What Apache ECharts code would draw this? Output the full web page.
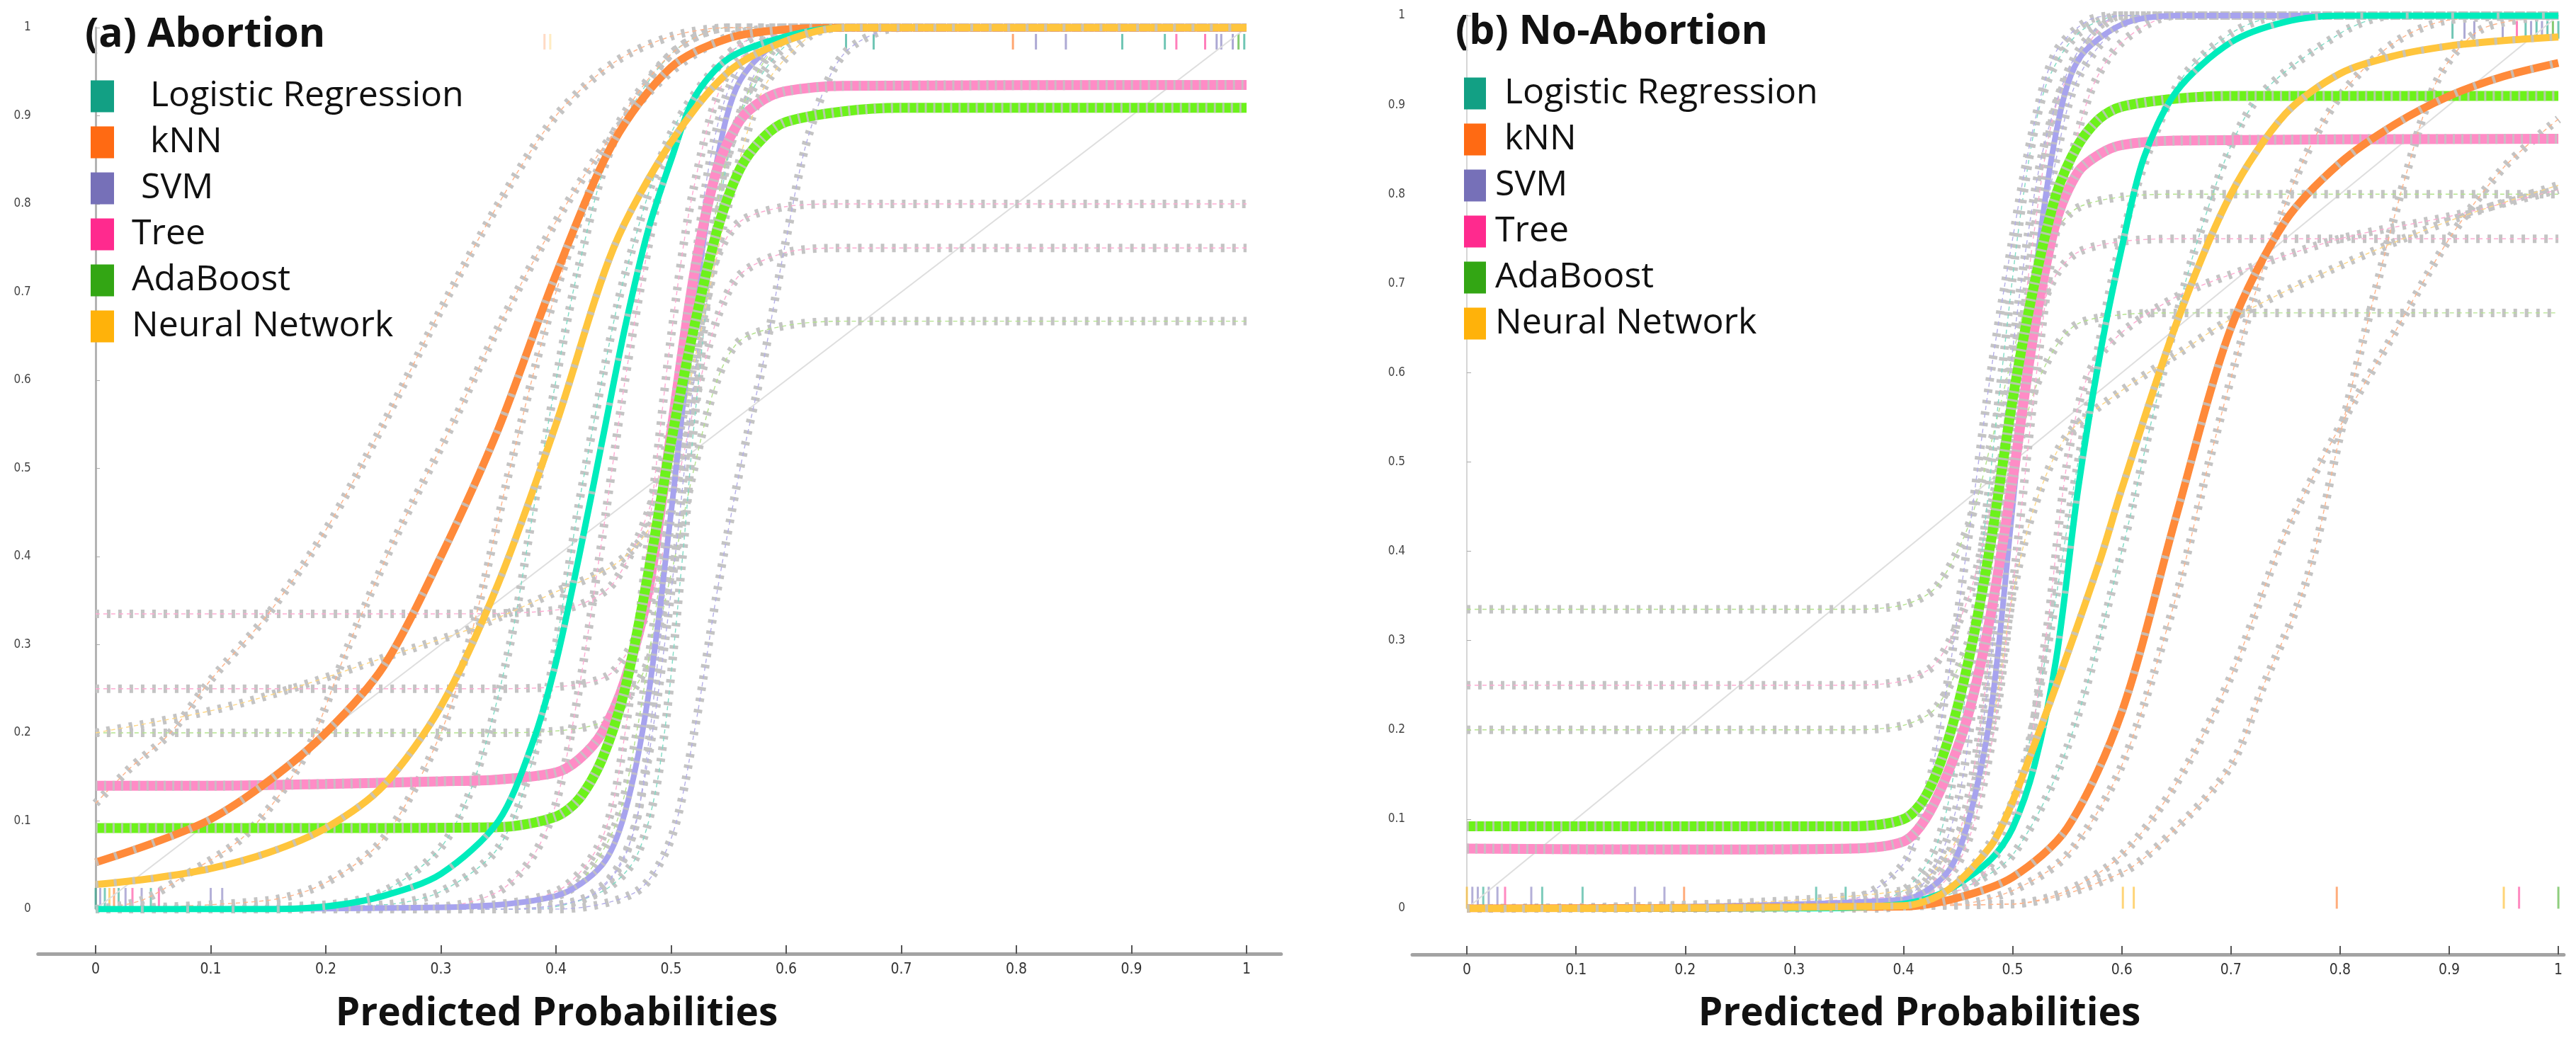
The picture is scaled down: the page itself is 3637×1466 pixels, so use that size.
<!DOCTYPE html>
<html><head><meta charset="utf-8">
<script src="https://cdn.jsdelivr.net/npm/echarts@6/dist/echarts.min.js"></script>
<style>html,body{margin:0;padding:0;background:#fff}#c{width:3637px;height:1466px}</style>
</head><body><div id="c"></div>
<script>
// ---------------- DATA ----------------
const modelNames = ['Logistic Regression', 'kNN', 'SVM', 'Tree', 'AdaBoost', 'Neural Network'];
const xTickValues = [0, 0.1, 0.2, 0.3, 0.4, 0.5, 0.6, 0.7, 0.8, 0.9, 1];
const panelTitles = ['(a) Abortion', '(b) No-Abortion'];
const xAxisTitle = 'Predicted Probabilities';

// (a) Abortion - main calibration curves [predicted, observed]
const abortionLR = [[0,0],[0.15,0],[0.2,0.003],[0.25,0.015],[0.3,0.04],[0.35,0.1],[0.38,0.19],[0.4,0.28],[0.42,0.4],[0.44,0.53],[0.46,0.66],[0.48,0.77],[0.5,0.85],[0.52,0.92],[0.55,0.965],[0.6,0.99],[0.65,1],[1,1]];
const abortionKNN = [[0,0.053],[0.05,0.075],[0.1,0.102],[0.15,0.145],[0.2,0.2],[0.25,0.275],[0.3,0.4],[0.35,0.545],[0.4,0.72],[0.45,0.87],[0.5,0.955],[0.55,0.988],[0.6,0.998],[0.65,1],[1,1]];
const abortionSVM = [[0,0],[0.3,0.002],[0.4,0.015],[0.44,0.05],[0.46,0.11],[0.48,0.24],[0.5,0.45],[0.52,0.68],[0.54,0.85],[0.56,0.94],[0.6,0.99],[0.65,1],[1,1]];
const abortionTree = [[0,0.14],[0.1,0.14],[0.2,0.142],[0.3,0.145],[0.35,0.147],[0.4,0.155],[0.42,0.17],[0.44,0.2],[0.46,0.26],[0.48,0.36],[0.5,0.54],[0.52,0.72],[0.54,0.84],[0.56,0.895],[0.58,0.918],[0.6,0.928],[0.65,0.934],[1,0.935]];
const abortionAda = [[0,0.092],[0.2,0.092],[0.35,0.093],[0.4,0.105],[0.42,0.125],[0.44,0.17],[0.46,0.25],[0.48,0.38],[0.5,0.53],[0.52,0.66],[0.54,0.77],[0.56,0.84],[0.58,0.875],[0.6,0.893],[0.65,0.905],[0.7,0.909],[1,0.909]];
const abortionNN = [[0,0.028],[0.05,0.035],[0.1,0.046],[0.15,0.064],[0.2,0.092],[0.25,0.14],[0.3,0.23],[0.35,0.37],[0.4,0.55],[0.45,0.75],[0.5,0.87],[0.55,0.95],[0.6,0.985],[0.65,1],[1,1]];

// (a) Abortion - resampled curves (grey diamonds)
const abortionBoot1 = [[0,0.335],[0.3,0.335],[0.38,0.337],[0.42,0.345],[0.45,0.37],[0.48,0.45],[0.5,0.55],[0.52,0.66],[0.54,0.74],[0.56,0.78],[0.6,0.797],[0.65,0.8],[1,0.8]];
const abortionBoot2 = [[0,0.25],[0.35,0.25],[0.42,0.255],[0.45,0.27],[0.48,0.34],[0.5,0.45],[0.52,0.57],[0.54,0.67],[0.56,0.72],[0.6,0.745],[0.65,0.75],[1,0.75]];
const abortionBoot3 = [[0,0.2],[0.35,0.2],[0.42,0.205],[0.45,0.22],[0.48,0.28],[0.5,0.38],[0.52,0.5],[0.54,0.6],[0.56,0.645],[0.6,0.662],[0.65,0.667],[1,0.667]];
const abortionBoot4 = [[0,0],[0.35,0],[0.42,0.01],[0.45,0.04],[0.47,0.1],[0.49,0.3],[0.5,0.45],[0.51,0.6],[0.53,0.82],[0.55,0.93],[0.58,0.985],[0.62,1],[1,1]];
const abortionBoot5 = [[0,0],[0.38,0],[0.44,0.02],[0.47,0.06],[0.49,0.16],[0.51,0.4],[0.52,0.55],[0.54,0.78],[0.56,0.9],[0.6,0.98],[0.65,1],[1,1]];
const abortionBoot6 = [[0,0],[0.3,0.002],[0.4,0.02],[0.44,0.08],[0.46,0.2],[0.48,0.42],[0.5,0.65],[0.52,0.82],[0.55,0.95],[0.6,0.995],[0.65,1],[1,1]];
const abortionBoot7 = [[0,0],[0.4,0],[0.47,0.02],[0.5,0.08],[0.52,0.2],[0.54,0.36],[0.56,0.5],[0.58,0.62],[0.6,0.76],[0.62,0.88],[0.65,0.97],[0.7,1],[1,1]];
const abortionBoot8 = [[0,0],[0.2,0.005],[0.25,0.02],[0.3,0.07],[0.33,0.15],[0.36,0.3],[0.38,0.45],[0.4,0.6],[0.42,0.73],[0.45,0.87],[0.5,0.97],[0.55,1],[1,1]];
const abortionBoot9 = [[0,0],[0.15,0.01],[0.2,0.03],[0.25,0.08],[0.3,0.2],[0.33,0.33],[0.36,0.5],[0.4,0.7],[0.45,0.88],[0.5,0.97],[0.55,1],[1,1]];
const abortionBoot10 = [[0,0.12],[0.03,0.16],[0.065,0.2],[0.1,0.26],[0.15,0.335],[0.2,0.43],[0.25,0.55],[0.3,0.68],[0.35,0.8],[0.4,0.9],[0.45,0.96],[0.5,0.99],[0.55,1],[1,1]];
const abortionBoot11 = [[0,0],[0.04,0.01],[0.08,0.04],[0.13,0.084],[0.18,0.17],[0.22,0.3],[0.26,0.42],[0.31,0.55],[0.35,0.66],[0.4,0.78],[0.45,0.88],[0.5,0.95],[0.55,0.99],[0.6,1],[1,1]];
const abortionBoot12 = [[0,0.2],[0.1,0.225],[0.17,0.25],[0.25,0.285],[0.33,0.32],[0.4,0.36],[0.45,0.39],[0.48,0.43],[0.5,0.5],[0.52,0.62],[0.55,0.8],[0.58,0.93],[0.62,0.99],[0.65,1],[1,1]];
const abortionBoot13 = [[0,0],[0.25,0.005],[0.3,0.02],[0.35,0.07],[0.38,0.17],[0.4,0.3],[0.42,0.46],[0.44,0.6],[0.46,0.72],[0.5,0.88],[0.55,0.97],[0.6,1],[1,1]];
const abortionBoot14 = [[0,0],[0.3,0.003],[0.35,0.02],[0.38,0.06],[0.4,0.12],[0.42,0.25],[0.44,0.42],[0.46,0.6],[0.48,0.75],[0.5,0.86],[0.55,0.97],[0.6,1],[1,1]];
const abortionBoot15 = [[0,0],[0.36,0],[0.43,0.015],[0.46,0.06],[0.48,0.17],[0.5,0.36],[0.52,0.6],[0.54,0.8],[0.57,0.94],[0.6,0.99],[0.65,1],[1,1]];
const abortionBoot16 = [[0,0],[0.33,0.002],[0.41,0.02],[0.45,0.09],[0.47,0.2],[0.49,0.37],[0.51,0.55],[0.53,0.72],[0.55,0.86],[0.58,0.96],[0.62,1],[1,1]];
const abortionBootModel = [3, 3, 4, 2, 0, 3, 2, 0, 1, 1, 1, 5, 0, 3, 2, 4];

// (a) rug marks [predicted, model index]
const abortionRugLow = [[0,0],[0.004,2],[0.008,0],[0.012,5],[0.016,1],[0.02,0],[0.026,2],[0.032,3],[0.04,2],[0.048,0],[0.055,3],[0.1,2],[0.11,2]];
const abortionRugHigh = [[0.39,1],[0.395,5],[0.652,0],[0.676,0],[0.797,1],[0.817,2],[0.843,2],[0.892,0],[0.929,0],[0.939,3],[0.964,3],[0.974,2],[0.978,2],[0.988,2],[0.993,4],[0.998,0]];

// (b) No-Abortion - main calibration curves
const noAbortionLR = [[0,0],[0.3,0],[0.4,0.005],[0.44,0.02],[0.48,0.055],[0.5,0.09],[0.52,0.16],[0.54,0.28],[0.56,0.47],[0.58,0.62],[0.6,0.74],[0.62,0.84],[0.65,0.915],[0.7,0.97],[0.75,0.993],[0.8,1],[1,1]];
const noAbortionKNN = [[0,0],[0.4,0.002],[0.45,0.012],[0.5,0.035],[0.55,0.09],[0.6,0.22],[0.65,0.44],[0.7,0.65],[0.75,0.77],[0.8,0.835],[0.85,0.878],[0.9,0.91],[0.95,0.932],[1,0.947]];
const noAbortionSVM = [[0,0],[0.4,0.01],[0.44,0.04],[0.46,0.1],[0.48,0.22],[0.5,0.45],[0.52,0.7],[0.54,0.87],[0.56,0.95],[0.6,0.99],[0.65,1],[1,1]];
const noAbortionTree = [[0,0.067],[0.2,0.066],[0.35,0.067],[0.4,0.075],[0.42,0.1],[0.44,0.15],[0.46,0.22],[0.48,0.33],[0.5,0.48],[0.52,0.65],[0.54,0.77],[0.56,0.825],[0.58,0.845],[0.6,0.855],[0.65,0.86],[1,0.862]];
const noAbortionAda = [[0,0.092],[0.35,0.092],[0.4,0.1],[0.42,0.125],[0.44,0.185],[0.46,0.28],[0.48,0.41],[0.5,0.57],[0.52,0.7],[0.54,0.8],[0.56,0.855],[0.58,0.885],[0.6,0.898],[0.65,0.907],[0.7,0.91],[1,0.91]];
const noAbortionNN = [[0,0],[0.4,0.003],[0.44,0.02],[0.48,0.07],[0.5,0.12],[0.54,0.25],[0.58,0.39],[0.6,0.47],[0.65,0.655],[0.7,0.8],[0.75,0.89],[0.8,0.935],[0.85,0.955],[0.9,0.966],[0.95,0.972],[1,0.976]];

// (b) resampled curves
const noAbortionBoot1 = [[0,0.335],[0.35,0.335],[0.4,0.34],[0.43,0.36],[0.46,0.43],[0.48,0.52],[0.5,0.62],[0.52,0.71],[0.54,0.76],[0.56,0.785],[0.6,0.797],[0.65,0.8],[1,0.8]];
const noAbortionBoot2 = [[0,0.25],[0.35,0.25],[0.4,0.255],[0.43,0.275],[0.46,0.35],[0.48,0.45],[0.5,0.56],[0.52,0.65],[0.54,0.71],[0.56,0.735],[0.6,0.747],[0.65,0.75],[1,0.75]];
const noAbortionBoot3 = [[0,0.2],[0.35,0.2],[0.4,0.205],[0.43,0.225],[0.46,0.3],[0.48,0.39],[0.5,0.49],[0.52,0.58],[0.54,0.63],[0.56,0.655],[0.6,0.665],[0.65,0.667],[1,0.667]];
const noAbortionBoot4 = [[0,0],[0.38,0],[0.42,0.02],[0.45,0.08],[0.47,0.2],[0.49,0.42],[0.5,0.55],[0.52,0.76],[0.54,0.9],[0.57,0.97],[0.6,1],[1,1]];
const noAbortionBoot5 = [[0,0],[0.4,0.005],[0.44,0.04],[0.46,0.1],[0.48,0.28],[0.5,0.5],[0.52,0.7],[0.54,0.84],[0.56,0.93],[0.6,0.99],[0.65,1],[1,1]];
const noAbortionBoot6 = [[0,0],[0.35,0.003],[0.4,0.02],[0.43,0.07],[0.45,0.18],[0.47,0.38],[0.49,0.6],[0.51,0.8],[0.53,0.92],[0.56,0.98],[0.6,1],[1,1]];
const noAbortionBoot7 = [[0,0],[0.35,0.01],[0.4,0.05],[0.42,0.12],[0.44,0.25],[0.46,0.42],[0.48,0.6],[0.5,0.75],[0.52,0.88],[0.54,0.96],[0.57,0.995],[0.6,1],[1,1]];
const noAbortionBoot8 = [[0,0],[0.4,0.005],[0.45,0.03],[0.5,0.12],[0.53,0.28],[0.56,0.5],[0.6,0.75],[0.65,0.92],[0.7,0.98],[0.75,1],[1,1]];
const noAbortionBoot9 = [[0,0],[0.4,0.003],[0.45,0.02],[0.5,0.06],[0.55,0.18],[0.6,0.4],[0.63,0.56],[0.67,0.75],[0.72,0.9],[0.8,0.98],[0.85,1],[1,1]];
const noAbortionBoot10 = [[0,0],[0.45,0.005],[0.5,0.02],[0.55,0.06],[0.6,0.16],[0.65,0.35],[0.68,0.5],[0.72,0.68],[0.76,0.82],[0.8,0.91],[0.85,0.97],[0.9,0.995],[1,1]];
const noAbortionBoot11 = [[0,0],[0.5,0.005],[0.6,0.04],[0.65,0.09],[0.7,0.16],[0.73,0.25],[0.77,0.37],[0.8,0.53],[0.83,0.68],[0.86,0.82],[0.89,0.93],[0.93,0.985],[1,1]];
const noAbortionBoot12 = [[0,0],[0.5,0.005],[0.55,0.02],[0.6,0.06],[0.65,0.14],[0.7,0.26],[0.75,0.42],[0.8,0.54],[0.85,0.645],[0.9,0.75],[0.95,0.83],[1,0.884]];
const noAbortionBoot13 = [[0,0],[0.45,0.02],[0.5,0.1],[0.53,0.3],[0.55,0.5],[0.57,0.6],[0.6,0.645],[0.65,0.685],[0.7,0.71],[0.8,0.75],[0.9,0.775],[1,0.805]];
const noAbortionBoot14 = [[0,0],[0.4,0.02],[0.45,0.08],[0.48,0.2],[0.5,0.35],[0.52,0.45],[0.55,0.53],[0.6,0.58],[0.65,0.62],[0.7,0.66],[0.8,0.72],[0.9,0.77],[1,0.81]];
const noAbortionBoot15 = [[0,0],[0.37,0.002],[0.42,0.03],[0.45,0.12],[0.47,0.3],[0.49,0.52],[0.51,0.72],[0.53,0.86],[0.56,0.96],[0.6,1],[1,1]];
const noAbortionBoot16 = [[0,0],[0.4,0.004],[0.45,0.05],[0.48,0.18],[0.5,0.36],[0.52,0.58],[0.54,0.76],[0.57,0.91],[0.6,0.97],[0.65,1],[1,1]];
const noAbortionBootModel = [4, 3, 4, 3, 2, 0, 2, 0, 0, 1, 1, 1, 3, 5, 2, 3];

// (b) rug marks
const noAbortionRugLow = [[0,5],[0.005,2],[0.01,2],[0.015,0],[0.02,2],[0.028,2],[0.035,3],[0.059,2],[0.069,0],[0.106,0],[0.154,2],[0.181,2],[0.199,1],[0.32,0],[0.347,0],[0.601,5],[0.611,5],[0.797,1],[0.95,5],[0.964,3],[1.0,4]];
const noAbortionRugHigh = [[0.903,0],[0.914,2],[0.923,2],[0.949,2],[0.962,3],[0.97,0],[0.975,2],[0.98,0],[0.985,2],[0.99,0],[0.995,4],[1.0,0]];

const diagonal = [[0,0],[1,1]];

// ---------------- STYLE ----------------
const legendColors = ['#12a084', '#ff6a13', '#7670b8', '#ff2a8e', '#33a614', '#ffb20a'];
const curveColors = ['#00ecbc', '#ff8a3a', '#a7a3ee', '#ff8cc6', '#6cf21a', '#ffc53d'];
const tintColors = ['#7fdcc5', '#ffb48a', '#b4aee9', '#ffaad2', '#b3e38b', '#ffd784'];
const curveWidths = [9, 11, 8, 14, 14, 10];
const overlayDash = [[4, 60], [4, 24], [3, 14], [3, 9], [3, 9], [4, 22]];
const drawOrder = [2, 3, 4, 1, 0, 5];

const panels = [
  { main: [abortionLR, abortionKNN, abortionSVM, abortionTree, abortionAda, abortionNN],
    boot: [abortionBoot1, abortionBoot2, abortionBoot3, abortionBoot4, abortionBoot5, abortionBoot6, abortionBoot7, abortionBoot8,
           abortionBoot9, abortionBoot10, abortionBoot11, abortionBoot12, abortionBoot13, abortionBoot14, abortionBoot15, abortionBoot16],
    bootModel: abortionBootModel, rugLow: abortionRugLow, rugHigh: abortionRugHigh },
  { main: [noAbortionLR, noAbortionKNN, noAbortionSVM, noAbortionTree, noAbortionAda, noAbortionNN],
    boot: [noAbortionBoot1, noAbortionBoot2, noAbortionBoot3, noAbortionBoot4, noAbortionBoot5, noAbortionBoot6, noAbortionBoot7, noAbortionBoot8,
           noAbortionBoot9, noAbortionBoot10, noAbortionBoot11, noAbortionBoot12, noAbortionBoot13, noAbortionBoot14, noAbortionBoot15, noAbortionBoot16],
    bootModel: noAbortionBootModel, rugLow: noAbortionRugLow, rugHigh: noAbortionRugHigh }
];

const series = [];
panels.forEach((p, g) => {
  const base = { type: 'line', xAxisIndex: g, yAxisIndex: g, showSymbol: false, symbol: 'none',
                 smooth: 0.3, silent: true, animation: false };
  series.push(Object.assign({}, base, { data: diagonal, smooth: false,
    lineStyle: { color: '#dedede', width: 2 } }));
  p.boot.forEach((pts, i) => {
    series.push(Object.assign({}, base, { data: pts,
      lineStyle: { color: '#c4c4c4', width: 12, type: [5, 11], cap: 'butt' } }));
    series.push(Object.assign({}, base, { data: pts,
      lineStyle: { color: tintColors[p.bootModel[i]], width: 1.4, type: [6, 5] } }));
  });
  drawOrder.forEach(m => {
    series.push(Object.assign({}, base, { name: modelNames[m], data: p.main[m],
      itemStyle: { color: legendColors[m] },
      lineStyle: { color: curveColors[m], width: curveWidths[m] } }));
    series.push(Object.assign({}, base, { data: p.main[m],
      lineStyle: { color: 'rgba(195,195,195,0.85)', width: curveWidths[m], type: overlayDash[m], cap: 'butt' } }));
  });
  const rugH = g === 0 ? [30, 22] : [31, 25];
  series.push({ type: 'scatter', xAxisIndex: g, yAxisIndex: g, silent: true, animation: false,
    symbol: 'rect', symbolSize: [3, rugH[0]],
    data: p.rugLow.map(r => ({ value: [r[0], 0.012], itemStyle: { color: legendColors[r[1]], opacity: 0.55 } })) });
  series.push({ type: 'scatter', xAxisIndex: g, yAxisIndex: g, silent: true, animation: false,
    symbol: 'rect', symbolSize: [3, rugH[1]],
    data: p.rugHigh.map(r => ({ value: [r[0], 0.984], itemStyle: { color: legendColors[r[1]], opacity: r[0] < 0.5 ? 0.25 : 0.6 } })) });
});

function xAxisCfg(g, max, offset) {
  return { type: 'value', gridIndex: g, min: -0.05, max: max, offset: offset,
    splitLine: { show: false },
    axisLine: { onZero: false, lineStyle: { color: '#a3a3a3', width: 5 } },
    axisTick: { customValues: xTickValues, inside: true, length: 12, lineStyle: { color: '#555', width: 2 } },
    axisLabel: { customValues: xTickValues, fontSize: 21, color: '#333', margin: 12,
                 fontFamily: 'DejaVu Sans Condensed, Liberation Sans, sans-serif' } };
}
function yAxisCfg(g, lineColor, lineW) {
  return { type: 'value', gridIndex: g, min: 0, max: 1, interval: 0.1,
    splitLine: { show: false },
    axisLine: { show: true, lineStyle: { color: lineColor, width: lineW } },
    axisTick: { show: true, inside: true, length: 6, lineStyle: { color: '#aaa' } },
    axisLabel: { fontSize: 17, color: '#444', margin: 10,
                 fontFamily: 'DejaVu Sans Condensed, Liberation Sans, sans-serif' } };
}
function legendCfg(left, top, w, padLeft, spaces) {
  return { orient: 'vertical', left: left, top: top, itemWidth: w, itemHeight: 45, itemGap: 15,
    icon: 'rect', data: modelNames, selectedMode: false,
    itemStyle: { borderWidth: 0 },
    formatter: n => ' '.repeat(spaces[modelNames.indexOf(n)]) + n,
    textStyle: { fontSize: 50, color: '#111', fontFamily: 'Open Sans, Noto Sans, sans-serif',
                 padding: [0, 0, 0, padLeft] } };
}

const textStyleBold = (s) => 'bold ' + s + 'px "Open Sans", "Noto Sans", sans-serif';

const option = {
  backgroundColor: '#ffffff',
  animation: false,
  grid: [
    { left: 53.75, top: 39, width: 1755, height: 1245 },
    { left: 1994, top: 22, width: 1625.8, height: 1261 }
  ],
  xAxis: [xAxisCfg(0, 1.03, 63), xAxisCfg(1, 1.005, 65)],
  yAxis: [yAxisCfg(0, '#b3b3b3', 3), yAxisCfg(1, '#d6d6d6', 2)],
  legend: [legendCfg(123, 106, 33, 20, [2, 2, 1, 0, 0, 0]), legendCfg(2062, 102, 31, 8, [1, 1, 0, 0, 0, 0])],
  graphic: [
    { type: 'text', x: 120, y: 50, style: { text: panelTitles[0], font: textStyleBold(57), fill: '#111', verticalAlign: 'middle' } },
    { type: 'text', x: 2055, y: 46, style: { text: panelTitles[1], font: textStyleBold(57), fill: '#111', verticalAlign: 'middle' } },
    { type: 'text', x: 786, y: 1432, style: { text: xAxisTitle, font: textStyleBold(55), fill: '#111', align: 'center', verticalAlign: 'middle' } },
    { type: 'text', x: 2710, y: 1432, style: { text: xAxisTitle, font: textStyleBold(55), fill: '#111', align: 'center', verticalAlign: 'middle' } }
  ],
  series: series
};

const chart = echarts.init(document.getElementById('c'), null, { renderer: 'canvas' });
chart.setOption(option);
</script>
</body></html>
